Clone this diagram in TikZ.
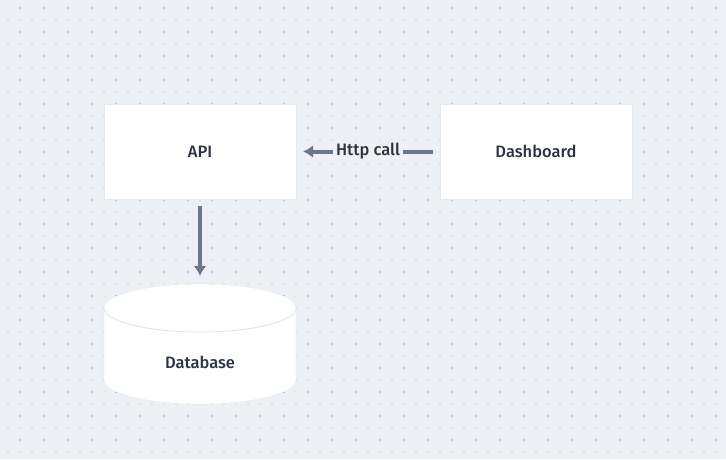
\documentclass[tikz,border=0pt]{standalone}
\usepackage{fontspec}
\setmainfont{Fira Sans}
\newfontfamily\labelfont{Fira Sans Medium}
\usepackage{tikz}
\usetikzlibrary{arrows.meta,positioning,calc}
\definecolor{bgcol}{HTML}{EDF0F5}
\definecolor{dotlight}{HTML}{DCE0E7}
\definecolor{dotdark}{HTML}{C3CAD4}
\definecolor{linkcol}{HTML}{6B7889}
\definecolor{txtcol}{HTML}{2B3340}
\definecolor{rimcol}{HTML}{E6E9EE}
\definecolor{seamcol}{HTML}{DFE3EA}

\begin{document}
\begin{tikzpicture}[x=1pt, y=-1pt, >=Latex,
    box/.style={draw=rimcol, line width=0.3pt, fill=white, minimum width=192pt,
      minimum height=95pt, inner sep=0pt, text=txtcol, font=\labelfont\fontsize{16.5}{19}\selectfont},
    link/.style={line width=4pt, draw=linkcol, arrows={-Latex[length=10pt,width=13pt]}}]
  % canvas with dot grid
  \fill[bgcol] (0,0) rectangle (726,459);
  \foreach \i in {0,...,59}
    \foreach \j in {0,...,37}
      \fill[dotlight] ({8+12*\i-1},{8+12*\j-1}) rectangle ++(2,2);
  \foreach \i in {0,...,29}
    \foreach \j in {0,...,18}
      \fill[dotdark] ({20+24*\i-1},{8+24*\j-1}) rectangle ++(2,2);
  % boxes
  \node[box] (api) at (200,151.5) {API};
  \node[box] (dash) at (536,151.5) {Dashboard};
  % database cylinder
  \node[inner sep=0pt, minimum width=192pt, minimum height=120pt] (db) at (200,344) {};
  \fill[white, draw=rimcol, line width=0.3pt] (104,308) -- (104,380)
    arc[start angle=180, end angle=360, x radius=96, y radius=-24]
    -- (296,308) arc[start angle=0, end angle=180, x radius=96, y radius=-24] -- cycle;
  \draw[seamcol, line width=0.8pt] (104,308) arc[start angle=180, end angle=360, x radius=96, y radius=-24];
  \node[text=txtcol, font=\labelfont\fontsize{16.5}{19}\selectfont] (dblabel) at ($(db.center)+(0,18)$) {Database};
  % connectors
  \draw[link, shorten <=7pt, shorten >=7pt] (dash) -- node[fill=bgcol, text=txtcol,
    font=\labelfont\fontsize{16.5}{19}\selectfont, inner sep=3pt] {Http call} (api);
  \draw[link, shorten <=7pt, shorten >=8pt] (api.south) -- (db.north);
\end{tikzpicture}
\end{document}
